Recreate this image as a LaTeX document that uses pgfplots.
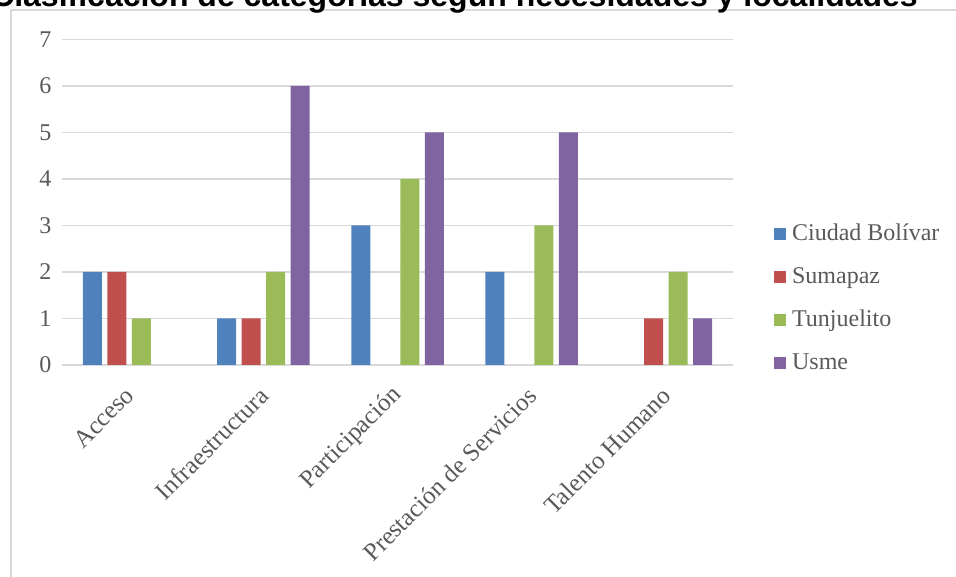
\documentclass[border=0pt]{standalone}
\usepackage{pgfplots}
\pgfplotsset{compat=1.18}
\usepackage{fontspec}
\setmainfont{Liberation Serif}
\newfontfamily\titlefont{Liberation Sans}
\definecolor{cbol}{HTML}{4F81BD}
\definecolor{csum}{HTML}{C0504D}
\definecolor{ctun}{HTML}{9BBB59}
\definecolor{cusm}{HTML}{8064A2}
\definecolor{gridgray}{HTML}{D9D9D9}
\definecolor{labelgray}{HTML}{595959}
\begin{document}
\begin{tikzpicture}
\path[use as bounding box] (-62pt,-212pt) rectangle (894pt,365pt);
\draw[gridgray, line width=1.5pt] (-51pt,-240pt) -- (-51pt,355pt) -- (920pt,355pt);
\node[anchor=base, font=\titlefont\bfseries\fontsize{32}{36}\selectfont] at (392.5pt,358pt) {Clasificación de categorías según necesidades y localidades};
\begin{axis}[
  at={(0pt,0pt)}, anchor=south west, scale only axis,
  width=671pt, height=325.5pt,
  xmin=-0.5, xmax=4.5, ymin=0, ymax=7,
  ybar=5.5pt, bar width=19pt,
  axis line style={draw=none},
  ymajorgrids, grid style={gridgray, line width=1.5pt},
  xtick={0,1,2,3,4},
  xticklabels={Acceso,Infraestructura,Participación,Prestación de Servicios,Talento Humano},
  ytick={0,1,...,7},
  major tick length=0pt,
  /pgf/number format/assume math mode=true,
  tick label style={font=\fontsize{24}{28}\selectfont, text=labelgray},
  yticklabel style={xshift=-7pt},
  xticklabel style={font=\fontsize{25}{28}\selectfont, xshift=3pt, yshift=-24pt, rotate=45, anchor=east},
  legend style={at={(1.061,0.4362)}, anchor=north west, draw=none, fill=none,
    inner sep=0pt, font=\fontsize{24}{28}\selectfont, text=labelgray,
    row sep=21pt, column sep=6pt, nodes={inner sep=0pt, text height=17pt, text depth=5pt}},
  legend cell align=left,
  legend image code/.code={\fill[#1] (0pt,-6pt) rectangle (12pt,6pt);},
]
\addplot[fill=cbol, draw=none] coordinates {(0,2) (1,1) (2,3) (3,2)};
\addplot[fill=csum, draw=none] coordinates {(0,2) (1,1) (4,1)};
\addplot[fill=ctun, draw=none] coordinates {(0,1) (1,2) (2,4) (3,3) (4,2)};
\addplot[fill=cusm, draw=none] coordinates {(1,6) (2,5) (3,5) (4,1)};
\legend{Ciudad Bolívar, Sumapaz, Tunjuelito, Usme}
\end{axis}
\end{tikzpicture}
\end{document}
